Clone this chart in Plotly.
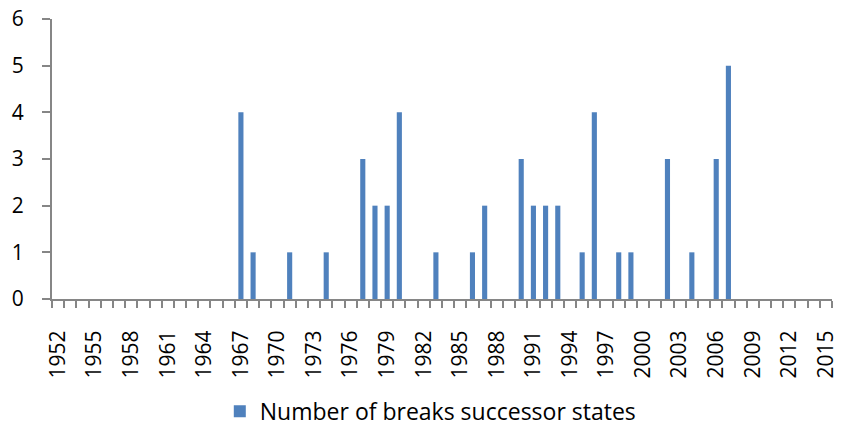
import plotly.graph_objects as go

years = [1967, 1968, 1971, 1974, 1977, 1978, 1979, 1980, 1983, 1986, 1987,
         1990, 1991, 1992, 1993, 1995, 1996, 1998, 1999, 2002, 2004, 2006, 2007]
breaks = [4, 1, 1, 1, 3, 2, 2, 4, 1, 1, 2,
          3, 2, 2, 2, 1, 4, 1, 1, 3, 1, 3, 5]
first_year, last_year = 1952, 2015
label_years = list(range(first_year, last_year + 1, 3))
series_name = "Number of breaks successor states"

fig = go.Figure()
fig.add_trace(go.Bar(x=years, y=breaks, name=series_name,
                     marker=dict(color="#4F81BD", line=dict(width=0)),
                     width=0.42, showlegend=True))

font = dict(family="Open Sans, Noto Sans, sans-serif", size=21, color="#000000")
legend_font = dict(family="Open Sans, Noto Sans, sans-serif", size=23, color="#000000")
fig.update_layout(
    width=842, height=427,
    margin=dict(l=44, r=18, t=11, b=136, autoexpand=False),
    paper_bgcolor="white", plot_bgcolor="white",
    font=font,
    showlegend=True,
    legend=dict(orientation="h", x=0.485, xanchor="center", y=-0.324, yanchor="top",
                font=legend_font, itemwidth=30),
    xaxis=dict(range=[first_year - 0.5, last_year + 0.5], tickmode="array",
               tickvals=label_years, ticktext=[str(y) for y in label_years],
               tickangle=-90, ticks="", showgrid=False, zeroline=False,
               showline=True, linecolor="#868686", linewidth=2,
               automargin=False, ticklabelstandoff=21, ticklabeloverflow="allow",
               minor=dict(tickvals=[y - 0.5 for y in range(first_year, last_year + 2)],
                          ticks="outside", ticklen=7, tickcolor="#868686", tickwidth=2,
                          showgrid=False),
               tickfont=font),
    yaxis=dict(range=[0, 6], dtick=1, ticks="outside", ticklen=8,
               tickcolor="#868686", tickwidth=2, showgrid=False, zeroline=False,
               showline=True, linecolor="#868686", linewidth=2, tickfont=font,
               automargin=False, ticklabelstandoff=14, ticklabeloverflow="allow"),
)
fig.write_html("out.html")
